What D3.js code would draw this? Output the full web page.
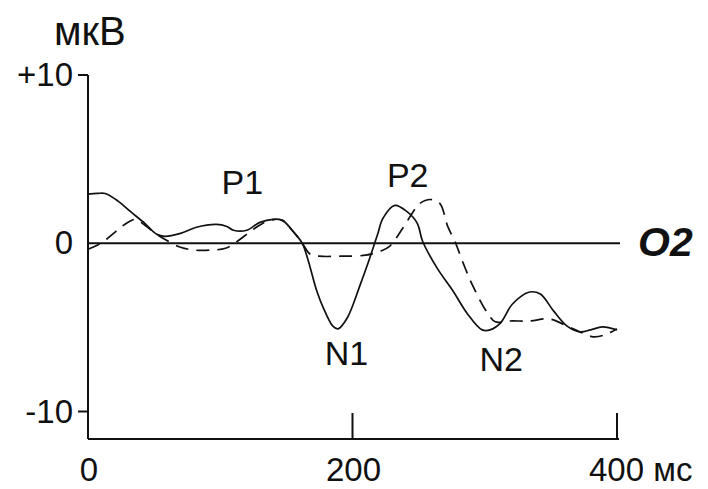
<!DOCTYPE html>
<html>
<head>
<meta charset="utf-8">
<script src="https://cdn.jsdelivr.net/npm/d3@7"></script>
<style>
  body { margin: 0; background: #fff; }
  text { font-family: "Liberation Sans", Arial, sans-serif; fill: #111; }
</style>
</head>
<body>
<div id="chart"></div>
<script>
// time (ms) and amplitude (мкВ)
const solidT = [0, 7, 13, 23, 32, 43, 52, 58, 70, 82, 97, 105, 110, 120, 130, 140, 147, 155, 162, 166, 173, 178, 185, 189, 196, 206, 213, 219, 223, 232, 241, 249, 253, 264, 276, 287, 298, 304, 312, 321, 334, 342, 352, 362, 372, 380, 389, 400];
const solidV = [2.92, 2.96, 2.96, 2.49, 1.89, 1.18, 0.53, 0.41, 0.59, 0.95, 1.12, 1.0, 0.77, 0.77, 1.24, 1.42, 1.36, 0.71, 0, -0.89, -2.84, -3.85, -4.91, -5.09, -4.44, -2.43, -0.89, 0.53, 1.48, 2.25, 1.89, 1.18, 0.12, -1.48, -2.84, -4.2, -5.15, -5.15, -4.73, -3.61, -2.9, -3.02, -4.02, -4.91, -5.27, -5.15, -4.97, -5.15];

const dashT = [0, 7, 14, 23, 30, 36, 43, 51, 58, 70, 81, 92, 104, 113, 123, 132, 141, 147, 155, 162, 168, 175, 191, 210, 221, 228, 238, 246, 251, 259, 266, 272, 278, 284, 291, 302, 308, 319, 334, 349, 362, 372, 382, 391, 400];
const dashV = [-0.36, -0.12, 0.24, 0.83, 1.24, 1.42, 1.07, 0.59, 0.24, -0.24, -0.41, -0.41, -0.3, 0.12, 0.71, 1.18, 1.42, 1.36, 0.71, 0, -0.65, -0.77, -0.77, -0.71, -0.47, -0.18, 0.89, 1.89, 2.37, 2.6, 2.37, 1.0, 0, -1.24, -2.54, -4.14, -4.67, -4.62, -4.62, -4.5, -4.91, -5.27, -5.56, -5.44, -5.09];

const yTicks = [10, 0, -10];
const yTickLabels = ["+10", "0", "-10"];
const xTicks = [0, 200, 400];
const xTickLabels = ["0", "200", "400 мс"];

// peak labels: name, time, amplitude of the label baseline
const peakNames = ["P1", "P2", "N1", "N2"];
const peakT = [101, 226, 179, 296];
const peakV = [2.95, 3.35, -7.25, -7.6];

const width = 708, height = 489;

const svg = d3.select("#chart")
  .append("svg")
  .attr("width", width)
  .attr("height", height);

const x = d3.scaleLinear().domain([0, 400]).range([88, 617]);
const y = d3.scaleLinear().domain([-10, 10]).range([411.5, 75]);
const axisY = 439;

// y axis line
svg.append("line")
  .attr("x1", x(0)).attr("x2", x(0))
  .attr("y1", y(10)).attr("y2", axisY)
  .attr("stroke", "#111").attr("stroke-width", 2);

// y ticks (only +10 and -10 have a tick mark)
svg.selectAll(".ytick")
  .data(yTicks.filter((d) => d !== 0))
  .enter()
  .append("line")
  .attr("x1", x(0) - 10).attr("x2", x(0))
  .attr("y1", (d) => y(d)).attr("y2", (d) => y(d))
  .attr("stroke", "#111").attr("stroke-width", 2);

svg.selectAll(".ylab")
  .data(yTicks)
  .enter()
  .append("text")
  .attr("x", 73)
  .attr("y", (d) => y(d) + 11)
  .attr("text-anchor", "end")
  .style("font-size", "33px")
  .text((d, i) => yTickLabels[i]);

// x axis
svg.append("line")
  .attr("x1", x(0)).attr("x2", x(400) + 2)
  .attr("y1", axisY).attr("y2", axisY)
  .attr("stroke", "#111").attr("stroke-width", 2);

svg.selectAll(".xtick")
  .data(xTicks.filter((d) => d !== 0))
  .enter()
  .append("line")
  .attr("x1", (d) => x(d)).attr("x2", (d) => x(d))
  .attr("y1", axisY - 26).attr("y2", axisY)
  .attr("stroke", "#111").attr("stroke-width", 2);

svg.selectAll(".xlab")
  .data(xTicks)
  .enter()
  .append("text")
  .attr("x", (d, i) => (i === 2 ? x(d) - 28 : x(d) + 1))
  .attr("y", 481)
  .attr("text-anchor", (d, i) => (i === 2 ? "start" : "middle"))
  .style("font-size", "33px")
  .text((d, i) => xTickLabels[i]);

// units label
svg.append("text")
  .attr("x", 54)
  .attr("y", 45)
  .style("font-size", "40px")
  .text("мкВ");

// zero line
svg.append("line")
  .attr("x1", x(0)).attr("x2", x(400) + 3)
  .attr("y1", y(0)).attr("y2", y(0))
  .attr("stroke", "#111").attr("stroke-width", 1.8);

svg.append("text")
  .attr("x", 638)
  .attr("y", y(0) + 13)
  .style("font-size", "41px")
  .style("font-weight", "bold")
  .style("font-style", "italic")
  .text("O2");

// curves
const line = d3.line()
  .x((d) => x(d[0]))
  .y((d) => y(d[1]))
  .curve(d3.curveCatmullRom.alpha(0.5));

svg.append("path")
  .datum(dashT.map((t, i) => [t, dashV[i]]))
  .attr("d", line)
  .attr("fill", "none")
  .attr("stroke", "#111")
  .attr("stroke-width", 1.7)
  .attr("stroke-dasharray", "13,8");

svg.append("path")
  .datum(solidT.map((t, i) => [t, solidV[i]]))
  .attr("d", line)
  .attr("fill", "none")
  .attr("stroke", "#111")
  .attr("stroke-width", 1.7);

// peak names
svg.selectAll(".peak")
  .data(peakNames)
  .enter()
  .append("text")
  .attr("x", (d, i) => x(peakT[i]))
  .attr("y", (d, i) => y(peakV[i]))
  .style("font-size", "34px")
  .text((d) => d);
</script>
</body>
</html>
